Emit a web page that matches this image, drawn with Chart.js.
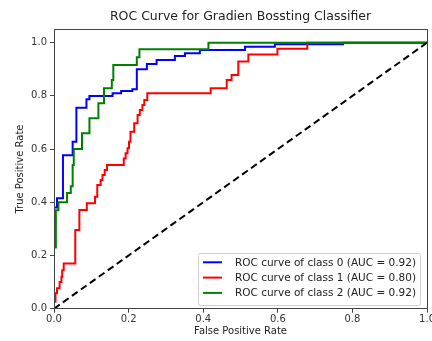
<!DOCTYPE html>
<html>
<head>
<meta charset="utf-8">
<script src="https://cdn.jsdelivr.net/npm/chart.js@4.4.1/dist/chart.umd.min.js"></script>
<style>
  html, body { margin: 0; padding: 0; background: #fff; overflow: hidden; }
  #wrap { width: 436px; height: 341px; }
</style>
</head>
<body>
<div id="wrap"><canvas id="roc-chart"></canvas></div>
<script>
// ROC points: x where the curve steps up, and the level it steps up to
const fpr0 = [0, 0, 0.008, 0.024, 0.05, 0.06, 0.087, 0.095, 0.157, 0.18, 0.21, 0.222, 0.249, 0.275, 0.324, 0.351, 0.391, 0.512, 0.592, 0.775, 1];
const tpr0 = [0, 0.38, 0.415, 0.577, 0.628, 0.755, 0.787, 0.80, 0.81, 0.818, 0.825, 0.90, 0.92, 0.935, 0.95, 0.96, 0.973, 0.985, 0.994, 1, 1];

const fpr1 = [0, 0, 0.004, 0.008, 0.015, 0.02, 0.022, 0.026, 0.057, 0.068, 0.088, 0.11, 0.116, 0.125, 0.13, 0.136, 0.142, 0.187, 0.192, 0.197, 0.201, 0.205, 0.215, 0.224, 0.23, 0.237, 0.242, 0.25, 0.42, 0.463, 0.476, 0.494, 0.521, 0.599, 0.679, 1];
const tpr1 = [0, 0.026, 0.058, 0.077, 0.10, 0.12, 0.145, 0.17, 0.296, 0.371, 0.396, 0.421, 0.465, 0.484, 0.503, 0.521, 0.54, 0.565, 0.584, 0.603, 0.628, 0.665, 0.697, 0.728, 0.747, 0.766, 0.785, 0.81, 0.829, 0.86, 0.879, 0.929, 0.956, 0.977, 1, 1];

const fpr2 = [0, 0, 0.005, 0.012, 0.035, 0.045, 0.05, 0.053, 0.075, 0.095, 0.119, 0.134, 0.155, 0.159, 0.222, 0.229, 0.414, 1];
const tpr2 = [0, 0.23, 0.37, 0.40, 0.435, 0.46, 0.54, 0.60, 0.66, 0.716, 0.772, 0.829, 0.86, 0.916, 0.945, 0.975, 1, 1];

const classLabels = ["ROC curve of class 0 (AUC = 0.92)", "ROC curve of class 1 (AUC = 0.80)", "ROC curve of class 2 (AUC = 0.92)"];
const classColors = ["#0000ff", "#ff0000", "#008000"];
const axisTicks = [0, 0.2, 0.4, 0.6, 0.8, 1.0];

const toPoints = (xs, ys) => xs.map((x, i) => ({ x: x, y: ys[i] }));
const FONT = "'DejaVu Sans', sans-serif";

// box on all four sides + legend inside the axes
const framePlugin = {
  id: "frame",
  afterDatasetsDraw(chart) {
    const { ctx, chartArea: a } = chart;
    ctx.save();
    ctx.strokeStyle = "#444";
    ctx.lineWidth = 1;
    ctx.strokeRect(Math.round(a.left) + 0.5, Math.round(a.top) + 0.5, Math.round(a.right - a.left), Math.round(a.bottom - a.top));
    ctx.restore();
  },
  afterDraw(chart) {
    const { ctx, chartArea: a } = chart;
    ctx.save();
    ctx.font = "10.5px " + FONT;
    const textW = Math.max(...classLabels.map((t) => ctx.measureText(t).width));
    const rowH = 15.3, pad = 5, lineLen = 19;
    const w = pad + lineLen + 13 + textW + 4;
    const h = rowH * classLabels.length + 6;
    const x = a.right - 7 - w, y = a.bottom - 4 - h;
    ctx.fillStyle = "rgba(255,255,255,0.85)";
    ctx.strokeStyle = "#d0d0d0";
    ctx.lineWidth = 1;
    ctx.beginPath();
    ctx.roundRect(Math.round(x) + 0.5, Math.round(y) + 0.5, Math.round(w), Math.round(h), 2);
    ctx.fill();
    ctx.stroke();
    classLabels.forEach((t, i) => {
      const cy = y + 9.5 + i * rowH;
      ctx.strokeStyle = classColors[i];
      ctx.lineWidth = 2;
      ctx.beginPath();
      ctx.moveTo(x + pad, cy);
      ctx.lineTo(x + pad + lineLen, cy);
      ctx.stroke();
      ctx.fillStyle = "#222";
      ctx.textBaseline = "middle";
      ctx.fillText(t, x + pad + lineLen + 13, cy + 0.5);
    });
    ctx.restore();
  },
};

const curve = (pts, i, order) => ({
  label: classLabels[i],
  data: pts,
  borderColor: classColors[i],
  borderWidth: 2,
  pointRadius: 0,
  stepped: true,
  fill: false,
  order: order,
});

new Chart(document.getElementById("roc-chart"), {
  type: "scatter",
  data: {
    datasets: [
      curve(toPoints(fpr0, tpr0), 0, 3),
      curve(toPoints(fpr1, tpr1), 1, 2),
      curve(toPoints(fpr2, tpr2), 2, 1),
      {
        label: "chance",
        data: toPoints([0, 1], [0, 1]),
        borderColor: "#000",
        borderWidth: 2,
        borderDash: [7, 4],
        pointRadius: 0,
        showLine: true,
        order: 0,
      },
    ],
  },
  plugins: [framePlugin],
  options: {
    responsive: true,
    maintainAspectRatio: false,
    animation: false,
    layout: { padding: 0 },
    datasets: { scatter: { showLine: true } },
    plugins: {
      legend: { display: false },
      tooltip: { enabled: false },
      title: {
        display: true,
        fullSize: false,
        text: "ROC Curve for Gradien Bossting Classifier",
        color: "#222",
        font: { family: FONT, size: 12.5, weight: "normal" },
        padding: { top: 9, bottom: 5.4 },
      },
    },
    scales: {
      x: {
        type: "linear",
        min: 0,
        max: 1,
        afterBuildTicks: (s) => { s.ticks = axisTicks.map((v) => ({ value: v })); },
        afterFit: (s) => { s.height = 32.3; },
        ticks: {
          color: "#333",
          font: { family: FONT, size: 10 },
          padding: 1,
          maxRotation: 0,
          callback: (v) => Number(v).toFixed(1),
        },
        grid: { display: true, drawOnChartArea: false, drawTicks: true, tickLength: 4, color: "#444" },
        border: { display: true, color: "#444" },
        title: {
          display: true,
          text: "False Positive Rate",
          color: "#222",
          font: { family: FONT, size: 10 },
          padding: { top: 0, bottom: 4 },
        },
      },
      y: {
        type: "linear",
        min: 0,
        max: 1.05,
        afterBuildTicks: (s) => { s.ticks = axisTicks.map((v) => ({ value: v })); },
        afterFit: (s) => { s.width = 54; },
        ticks: {
          color: "#333",
          font: { family: FONT, size: 10 },
          padding: 3,
          callback: (v) => Number(v).toFixed(1),
        },
        grid: { display: true, drawOnChartArea: false, drawTicks: true, tickLength: 4, color: "#444" },
        border: { display: true, color: "#444" },
        title: {
          display: true,
          text: "True Positive Rate",
          color: "#222",
          font: { family: FONT, size: 10 },
          padding: { top: 14, bottom: 0 },
        },
      },
    },
  },
});
</script>
</body>
</html>
